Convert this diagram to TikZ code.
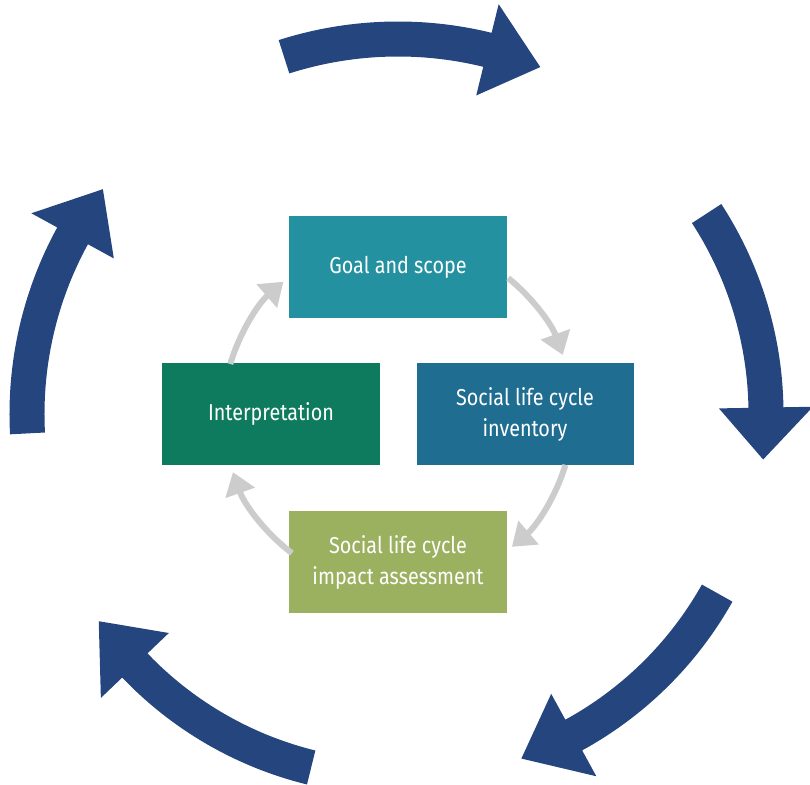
\documentclass[tikz,border=0pt]{standalone}
\usepackage{fontspec}
\setmainfont[FakeStretch=0.86]{Fira Sans}
\usetikzlibrary{arrows.meta,calc}
\definecolor{goalc}{HTML}{2491A1}
\definecolor{invc}{HTML}{1F6E91}
\definecolor{intc}{HTML}{0F7B5E}
\definecolor{impc}{HTML}{9BB160}
\definecolor{bluec}{HTML}{25457F}
\definecolor{grayc}{HTML}{CCCCCC}
\newcommand\bigarrow[4]{%
  \fill[bluearr] (#1:{#4+17.5}) arc[start angle=#1, end angle=#2, radius={#4+17.5}]
    -- (#2:{#4+47}) -- (#3:#4) -- (#2:{#4-47}) -- (#2:{#4-17.5})
    arc[start angle=#2, end angle=#1, radius={#4-17.5}] -- cycle;}
\begin{document}
\begin{tikzpicture}[x=1pt,y=1pt,
  phase/.style={minimum width=217pt, minimum height=102pt, inner sep=0pt,
    text=white, align=center, font=\fontsize{23}{31}\selectfont},
  bluearr/.style={fill=bluec},
  grayarr/.style={draw=grayc, line width=6pt, -{Triangle[width=30pt,length=22pt]}}]
\useasboundingbox (-398,-370) rectangle (412,414);
\coordinate (c) at (0,0);
% outer cycle arrows
\bigarrow{107.7}{76.2}{67.7}{375}
\bigarrow{33}{1}{-7.1}{368}
\bigarrow{-29.3}{-61.3}{-70.3}{366}
\bigarrow{-103.8}{-136.3}{-145.3}{364}
\bigarrow{183}{151.3}{142.7}{371}
% phases
\node[phase, fill=goalc] (goal) at (0,147) {Goal and scope};
\node[phase, fill=invc] (inv) at (127,0) {Social life cycle\\inventory};
\node[phase, fill=impc] (imp) at (0,-148) {Social life cycle\\impact assessment};
\node[phase, fill=intc] (int) at (-127,0) {Interpretation};
% inner cycle arrows
\draw[grayarr] ([shift={(51:175)}]c) arc[start angle=51, end angle=19.7, radius=175];
\draw[grayarr] ([shift={(-16.9:175)}]c) arc[start angle=-16.9, end angle=-49.4, radius=175];
\draw[grayarr] ([shift={(232.7:175)}]c) arc[start angle=232.7, end angle=199.4, radius=175];
\draw[grayarr] ([shift={(163.4:175)}]c) arc[start angle=163.4, end angle=130.9, radius=175];
\end{tikzpicture}
\end{document}
